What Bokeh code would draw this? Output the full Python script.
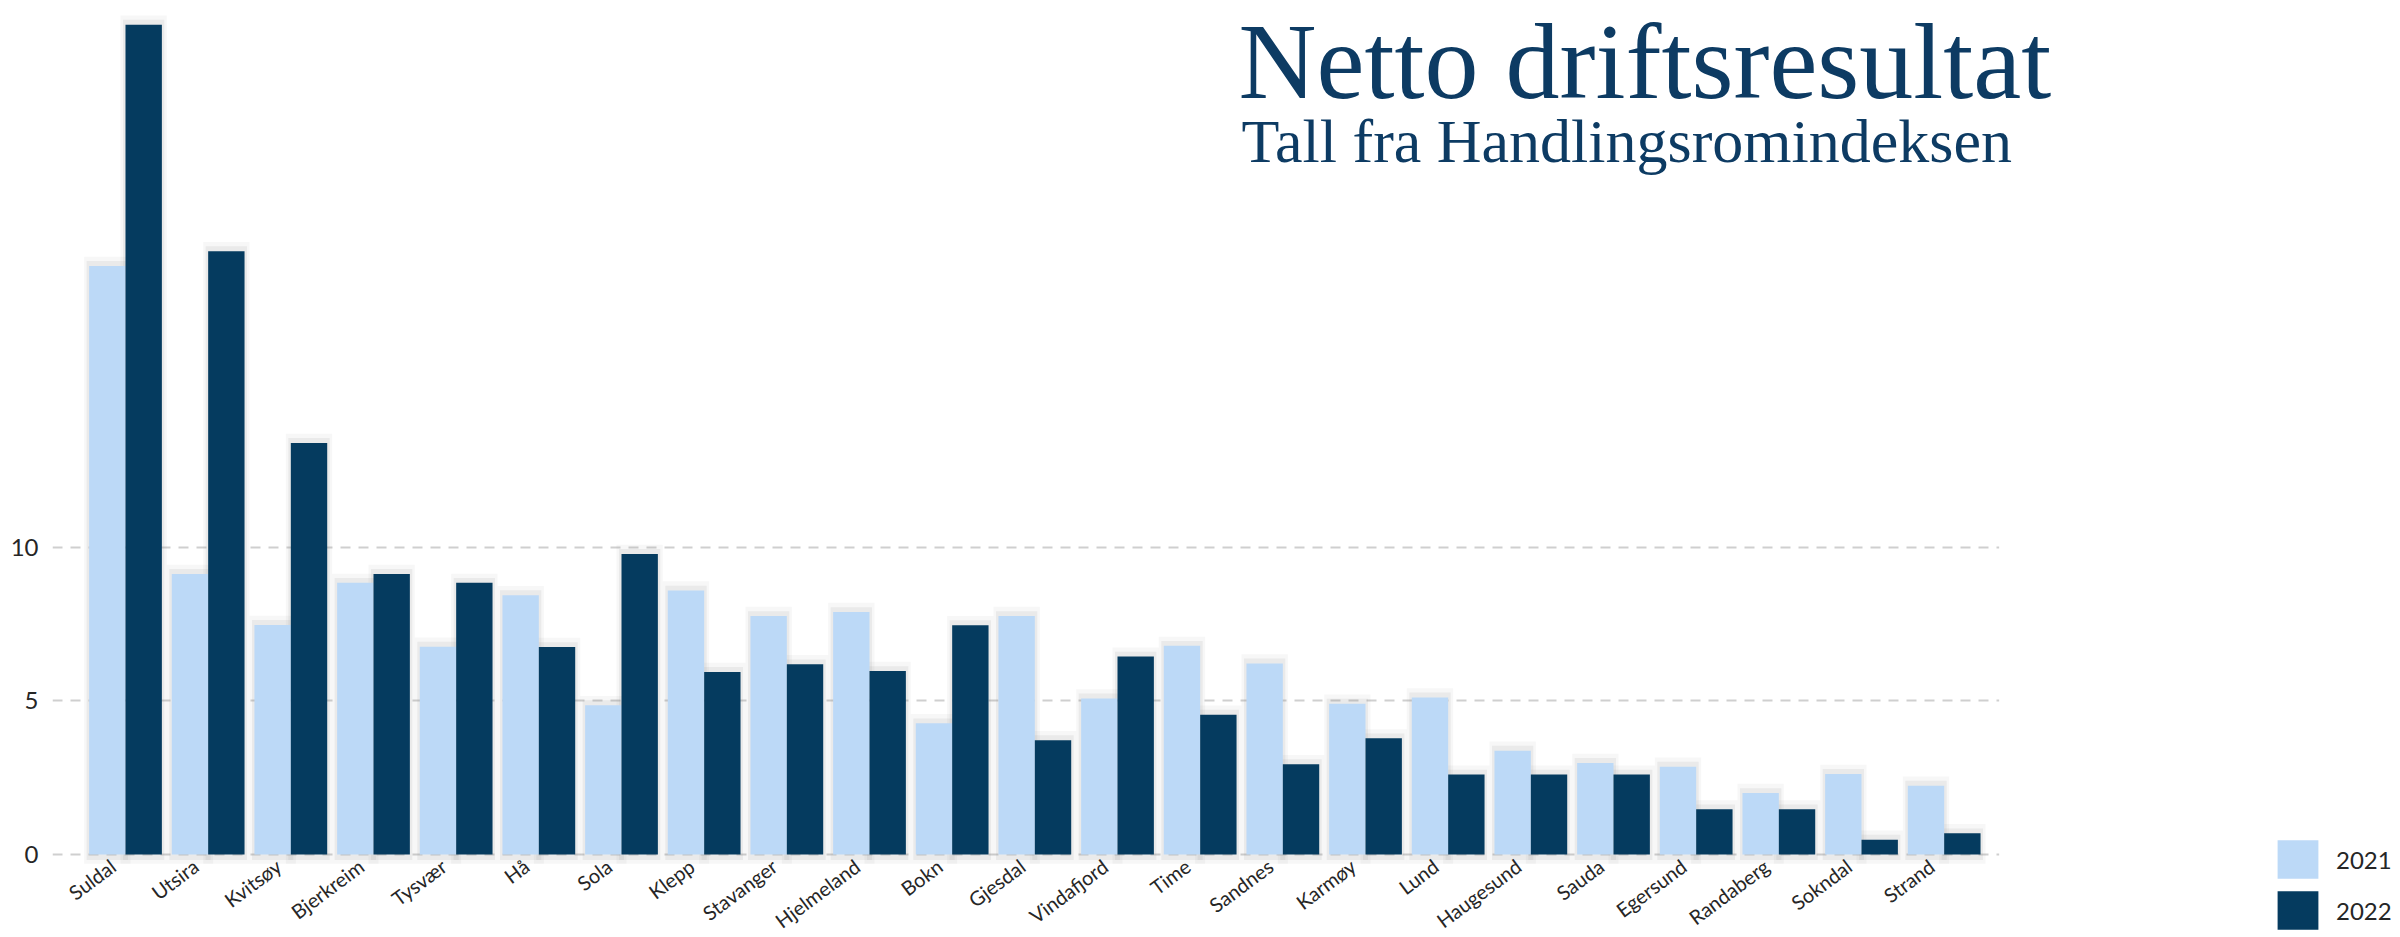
from bokeh.plotting import figure
from bokeh.models import ColumnDataSource, Range1d, FixedTicker, Label, BoxAnnotation
from bokeh.transform import dodge
from bokeh.embed import file_html
from bokeh.resources import INLINE

categories = ["Suldal", "Utsira", "Kvitsøy", "Bjerkreim", "Tysvær", "Hå", "Sola",
              "Klepp", "Stavanger", "Hjelmeland", "Bokn", "Gjesdal", "Vindafjord",
              "Time", "Sandnes", "Karmøy", "Lund", "Haugesund", "Sauda", "Egersund",
              "Randaberg", "Sokndal", "Strand"]
v2021 = [19.15, 9.13, 7.47, 8.84, 6.76, 8.44, 4.86, 8.59, 7.76, 7.89, 4.27, 7.76,
         5.08, 6.79, 6.22, 4.91, 5.11, 3.38, 2.98, 2.86, 2.00, 2.62, 2.24]
v2022 = [27.00, 19.63, 13.39, 9.13, 8.84, 6.75, 9.78, 5.94, 6.19, 5.97, 7.46, 3.72,
         6.44, 4.55, 2.94, 3.78, 2.60, 2.60, 2.60, 1.47, 1.47, 0.48, 0.69]
series_labels = ["2021", "2022"]
y_ticks = [0, 5, 10]
title_text = "Netto driftsresultat"
subtitle_text = "Tall fra Handlingsromindeksen"

LIGHT = "#bcd9f7"
DARK = "#053b5f"
TITLE_COLOR = "#0d3b63"
TEXT_COLOR = "#262626"

idx = list(range(len(categories)))
src = ColumnDataSource(dict(
    x=idx, a=v2021, b=v2022,
    a_s1=[v + 0.30 for v in v2021], b_s1=[v + 0.30 for v in v2022],
    a_s2=[v + 0.16 for v in v2021], b_s2=[v + 0.16 for v in v2022],
))

p = figure(width=2400, height=937,
           x_range=Range1d(-0.883, 27.52), y_range=Range1d(-2.70, 27.79),
           output_backend="svg", toolbar_location=None,
           min_border_left=52, min_border_right=0,
           min_border_top=0, min_border_bottom=0)
p.outline_line_color = None
p.background_fill_color = "white"
p.border_fill_color = "white"

# hide gridlines to the right of the category area
p.add_layout(BoxAnnotation(left=22.665, fill_color="white", fill_alpha=1.0,
                           line_color=None, level="underlay"))

bw = 0.44
off = 0.22
# soft shadow halos
for col, dx in (("a", -off), ("b", off)):
    p.vbar(x=dodge("x", dx, range=p.x_range), top=col + "_s1", bottom=-0.3, width=bw + 0.12,
           source=src, fill_color="#8a8a8a", fill_alpha=0.07, line_color=None)
    p.vbar(x=dodge("x", dx, range=p.x_range), top=col + "_s2", bottom=-0.18, width=bw + 0.06,
           source=src, fill_color="#8a8a8a", fill_alpha=0.11, line_color=None)

p.vbar(x=dodge("x", -off, range=p.x_range), top="a", width=bw, source=src,
       fill_color=LIGHT, line_color=None, legend_label=series_labels[0])
p.vbar(x=dodge("x", off, range=p.x_range), top="b", width=bw, source=src,
       fill_color=DARK, line_color=None, legend_label=series_labels[1])

# axes (labels sit slightly left of the group centre, as in the original)
label_pos = [i - 0.15 for i in idx]
p.xaxis.fixed_location = 0
p.xaxis.ticker = FixedTicker(ticks=label_pos)
p.xaxis.major_label_overrides = {t: c for t, c in zip(label_pos, categories)}
p.xaxis.major_label_orientation = 0.64
p.xaxis.axis_line_color = None
p.xaxis.major_tick_line_color = None
p.xaxis.minor_tick_line_color = None
p.xaxis.major_tick_out = 0
p.xaxis.major_tick_in = 0
p.xaxis.major_label_text_font = "Lato"
p.xaxis.major_label_text_font_size = "20px"
p.xaxis.major_label_text_color = TEXT_COLOR
p.xaxis.major_label_standoff = 9
p.xgrid.visible = False

p.yaxis.ticker = FixedTicker(ticks=y_ticks)
p.yaxis.axis_line_color = None
p.yaxis.major_tick_line_color = None
p.yaxis.minor_tick_line_color = None
p.yaxis.major_tick_out = 0
p.yaxis.major_tick_in = 0
p.yaxis.major_label_text_font = "Lato"
p.yaxis.major_label_text_font_size = "24px"
p.yaxis.major_label_text_color = TEXT_COLOR
p.yaxis.major_label_standoff = 14
p.ygrid.grid_line_color = "#cfcfcf"
p.ygrid.grid_line_dash = "10 8"
p.ygrid.grid_line_width = 2

# legend
lg = p.legend[0]
lg.location = (2220, 3)
lg.orientation = "vertical"
lg.border_line_color = None
lg.background_fill_alpha = 0
lg.padding = 0
lg.margin = 0
lg.glyph_width = 51
lg.glyph_height = 48
lg.label_height = 48
lg.spacing = 3
lg.label_standoff = 13
lg.label_text_font = "Lato"
lg.label_text_font_size = "24px"
lg.label_text_color = TEXT_COLOR

# titles
p.add_layout(Label(x=1186, y=876, x_units="screen", y_units="screen", text=title_text,
                   text_font="Liberation Serif", text_font_size="108px",
                   text_color=TITLE_COLOR, text_baseline="alphabetic"))
p.add_layout(Label(x=1189, y=797, x_units="screen", y_units="screen", text=subtitle_text,
                   text_font="Liberation Serif", text_font_size="62px",
                   text_color=TITLE_COLOR, text_baseline="alphabetic"))

open("out.html", "w").write(file_html(p, INLINE))
